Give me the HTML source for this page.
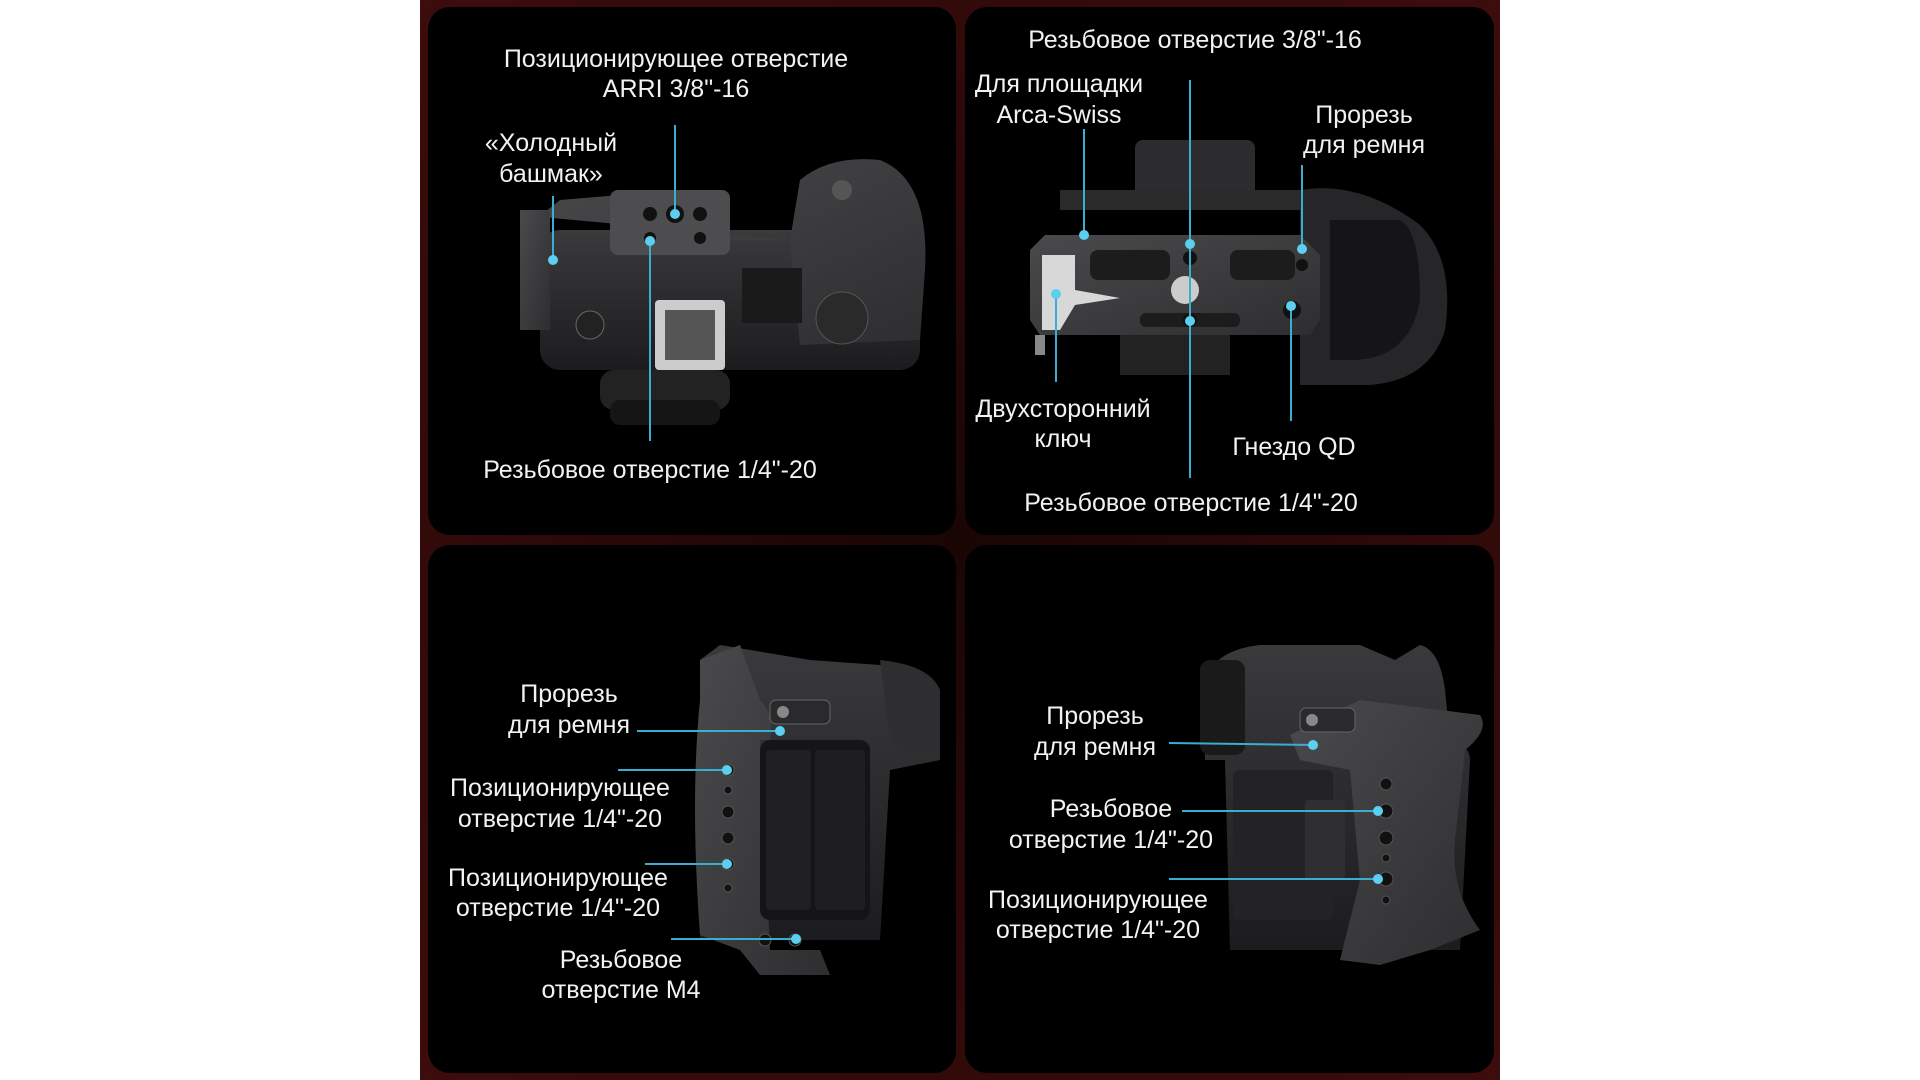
<!DOCTYPE html>
<html><head><meta charset="utf-8"><style>
html,body{margin:0;padding:0;background:#fff;width:1920px;height:1080px;overflow:hidden}
svg{display:block}
text{font-family:"Liberation Sans","DejaVu Sans",sans-serif;font-size:25px;fill:#f2f2f2;text-anchor:middle}
</style></head><body>
<svg width="1920" height="1080" viewBox="0 0 1920 1080" xmlns="http://www.w3.org/2000/svg">
<defs>
<radialGradient id="bg" cx="50%" cy="50%" r="70%"><stop offset="0" stop-color="#1a0505"/><stop offset="1" stop-color="#3d0c0c"/></radialGradient>
<linearGradient id="body" x1="0" y1="0" x2="0" y2="1"><stop offset="0" stop-color="#3a3a3c"/><stop offset="1" stop-color="#1c1c1e"/></linearGradient>
<linearGradient id="cage" x1="0" y1="0" x2="1" y2="1"><stop offset="0" stop-color="#4a4a4c"/><stop offset="1" stop-color="#2e2e30"/></linearGradient>
</defs>
<rect x="420" y="0" width="1080" height="1080" fill="url(#bg)"/>
<rect x="428" y="7" width="528" height="528" rx="22" fill="#000"/>
<rect x="965" y="7" width="529" height="528" rx="22" fill="#000"/>
<rect x="428" y="545" width="528" height="528" rx="22" fill="#000"/>
<rect x="965" y="545" width="529" height="528" rx="22" fill="#000"/>

<!-- TL camera -->
<g>
<rect x="540" y="230" width="380" height="140" rx="20" fill="url(#body)"/>
<path d="M520 215 L545 212 L560 200 L620 195 L625 190 L720 190 L730 240 L790 240 L800 180 Q830 155 880 160 Q930 180 925 270 L920 340 L800 345 L790 240 Z" fill="url(#cage)"/>
<rect x="520" y="210" width="30" height="120" fill="url(#cage)"/>
<rect x="610" y="190" width="120" height="65" rx="8" fill="#4d4d4f"/>
<circle cx="675" cy="214" r="9" fill="#111"/><circle cx="650" cy="214" r="7" fill="#111"/><circle cx="700" cy="214" r="7" fill="#111"/><circle cx="650" cy="238" r="6" fill="#111"/><circle cx="700" cy="238" r="6" fill="#111"/>
<rect x="655" y="300" width="70" height="70" rx="4" fill="#ccc"/><rect x="665" y="310" width="50" height="50" fill="#555"/>
<rect x="600" y="370" width="130" height="40" rx="14" fill="#222"/>
<rect x="610" y="400" width="110" height="25" rx="10" fill="#151515"/>
<rect x="742" y="268" width="60" height="55" fill="#1a1a1a"/>
<circle cx="842" cy="318" r="26" fill="#2a2a2a" stroke="#555"/>
<circle cx="590" cy="325" r="14" fill="#222" stroke="#666"/>
<circle cx="842" cy="190" r="10" fill="#555"/>
</g>
<!-- TR camera -->
<g>
<rect x="1135" y="140" width="120" height="60" rx="8" fill="#2c2c2e"/>
<rect x="1060" y="190" width="245" height="20" fill="#2a2a2a"/>
<rect x="1120" y="330" width="110" height="45" fill="#222"/>
<path d="M1300 190 Q1360 180 1420 225 Q1455 260 1445 330 Q1430 380 1370 385 L1300 385 Z" fill="#262628"/>
<path d="M1330 220 L1400 220 Q1420 230 1420 300 Q1410 360 1350 360 L1330 360 Z" fill="#151517"/>
<path d="M1030 250 L1045 235 L1300 235 L1320 255 L1320 320 L1310 335 L1040 335 L1030 320 Z" fill="url(#cage)"/>
<path d="M1042 255 L1075 255 L1075 290 L1120 298 L1075 305 L1060 330 L1042 330 Z" fill="#d8d8d8"/>
<circle cx="1185" cy="290" r="14" fill="#ccc"/>
<rect x="1090" y="250" width="80" height="30" rx="8" fill="#1c1c1c"/><rect x="1230" y="250" width="65" height="30" rx="8" fill="#1c1c1c"/>
<rect x="1140" y="313" width="100" height="14" rx="6" fill="#1c1c1c"/>
<circle cx="1190" cy="258" r="7" fill="#111"/><circle cx="1190" cy="320" r="7" fill="#111"/><circle cx="1292" cy="310" r="9" fill="#111"/><circle cx="1302" cy="265" r="6" fill="#111"/>
<rect x="1035" y="335" width="10" height="20" fill="#888"/>
</g>
<!-- BL camera -->
<g>
<path d="M700 660 L720 645 L810 660 L880 665 Q920 660 940 700 L940 760 L890 770 L880 940 L700 940 Z" fill="url(#body)"/>
<path d="M880 660 Q930 665 940 690 L940 755 Q915 760 890 740 Z" fill="#2e2e30"/>
<path d="M700 660 L740 645 L760 700 Q775 715 770 740 L760 740 L770 950 L820 950 L830 975 L760 975 L740 950 L700 935 Q690 800 700 700 Z" fill="url(#cage)"/>
<rect x="760" y="740" width="110" height="180" rx="10" fill="#151517"/>
<rect x="766" y="750" width="45" height="160" rx="4" fill="#202022"/><rect x="815" y="750" width="50" height="160" rx="4" fill="#1e1e20"/>
<rect x="770" y="700" width="60" height="24" rx="6" fill="#2a2a2c" stroke="#666"/>
<circle cx="783" cy="712" r="6" fill="#888"/>
<g fill="#111" stroke="#555"><circle cx="728" cy="770" r="6"/><circle cx="728" cy="790" r="4"/><circle cx="728" cy="812" r="6"/><circle cx="728" cy="838" r="6"/><circle cx="728" cy="864" r="6"/><circle cx="728" cy="888" r="4"/><circle cx="765" cy="940" r="6"/><circle cx="795" cy="940" r="6"/></g>
</g>
<!-- BR camera -->
<g>
<path d="M1205 680 Q1215 650 1260 645 L1360 645 L1395 660 L1420 645 Q1440 650 1445 690 L1450 740 Q1470 745 1470 760 L1460 950 L1230 950 L1225 760 L1205 760 Z" fill="url(#body)"/>
<rect x="1200" y="660" width="45" height="95" rx="10" fill="#1a1a1a"/>
<path d="M1290 735 L1360 700 L1480 715 Q1490 730 1465 750 L1455 840 Q1450 890 1480 930 L1430 950 L1380 965 L1340 960 L1360 880 L1350 770 L1300 760 Z" fill="url(#cage)"/>
<rect x="1233" y="770" width="100" height="150" rx="6" fill="#232325"/>
<rect x="1305" y="800" width="40" height="80" rx="4" fill="#2f2f31"/>
<rect x="1300" y="708" width="55" height="24" rx="6" fill="#2a2a2c" stroke="#666"/>
<circle cx="1312" cy="720" r="6" fill="#888"/>
<g fill="#111" stroke="#555"><circle cx="1386" cy="784" r="6"/><circle cx="1386" cy="811" r="7"/><circle cx="1386" cy="838" r="7"/><circle cx="1386" cy="858" r="4"/><circle cx="1386" cy="879" r="7"/><circle cx="1386" cy="900" r="4"/></g>
</g>

<!-- leader lines -->
<g stroke="#3aaed0" stroke-width="2" fill="none">
<line x1="675" y1="125" x2="675" y2="214"/>
<line x1="553" y1="196" x2="553" y2="260"/>
<line x1="650" y1="241" x2="650" y2="441"/>
<line x1="1190" y1="80" x2="1190" y2="478"/>
<line x1="1084" y1="129" x2="1084" y2="235"/>
<line x1="1302" y1="165" x2="1302" y2="249"/>
<line x1="1056" y1="294" x2="1056" y2="382"/>
<line x1="1291" y1="306" x2="1291" y2="421"/>
<line x1="637" y1="731" x2="780" y2="731"/>
<line x1="618" y1="770" x2="727" y2="770"/>
<line x1="645" y1="864" x2="727" y2="864"/>
<line x1="671" y1="939" x2="796" y2="939"/>
<line x1="1169" y1="743" x2="1313" y2="745"/>
<line x1="1182" y1="811" x2="1378" y2="811"/>
<line x1="1169" y1="879" x2="1378" y2="879"/>
</g>
<g fill="#5ccff0">
<circle cx="675" cy="214" r="5"/><circle cx="553" cy="260" r="5"/><circle cx="650" cy="241" r="5"/>
<circle cx="1190" cy="244" r="5"/><circle cx="1190" cy="321" r="5"/><circle cx="1084" cy="235" r="5"/><circle cx="1302" cy="249" r="5"/><circle cx="1056" cy="294" r="5"/><circle cx="1291" cy="306" r="5"/>
<circle cx="780" cy="731" r="5"/><circle cx="727" cy="770" r="5"/><circle cx="727" cy="864" r="5"/><circle cx="796" cy="939" r="5"/>
<circle cx="1313" cy="745" r="5"/><circle cx="1378" cy="811" r="5"/><circle cx="1378" cy="879" r="5"/>
</g>

<!-- labels -->
<text x="676" y="67">Позиционирующее отверстие</text>
<text x="676" y="97">ARRI 3/8"-16</text>
<text x="551" y="151">«Холодный</text>
<text x="551" y="182">башмак»</text>
<text x="650" y="478">Резьбовое отверстие 1/4"-20</text>

<text x="1195" y="48">Резьбовое отверстие 3/8"-16</text>
<text x="1059" y="92">Для площадки</text>
<text x="1059" y="123">Arca-Swiss</text>
<text x="1364" y="123">Прорезь</text>
<text x="1364" y="153">для ремня</text>
<text x="1063" y="417">Двухсторонний</text>
<text x="1063" y="447">ключ</text>
<text x="1294" y="455">Гнездо QD</text>
<text x="1191" y="511">Резьбовое отверстие 1/4"-20</text>

<text x="569" y="702">Прорезь</text>
<text x="569" y="733">для ремня</text>
<text x="560" y="796">Позиционирующее</text>
<text x="560" y="827">отверстие 1/4"-20</text>
<text x="558" y="886">Позиционирующее</text>
<text x="558" y="916">отверстие 1/4"-20</text>
<text x="621" y="968">Резьбовое</text>
<text x="621" y="998">отверстие M4</text>

<text x="1095" y="724">Прорезь</text>
<text x="1095" y="755">для ремня</text>
<text x="1111" y="817">Резьбовое</text>
<text x="1111" y="848">отверстие 1/4"-20</text>
<text x="1098" y="908">Позиционирующее</text>
<text x="1098" y="938">отверстие 1/4"-20</text>
</svg>
</body></html>
